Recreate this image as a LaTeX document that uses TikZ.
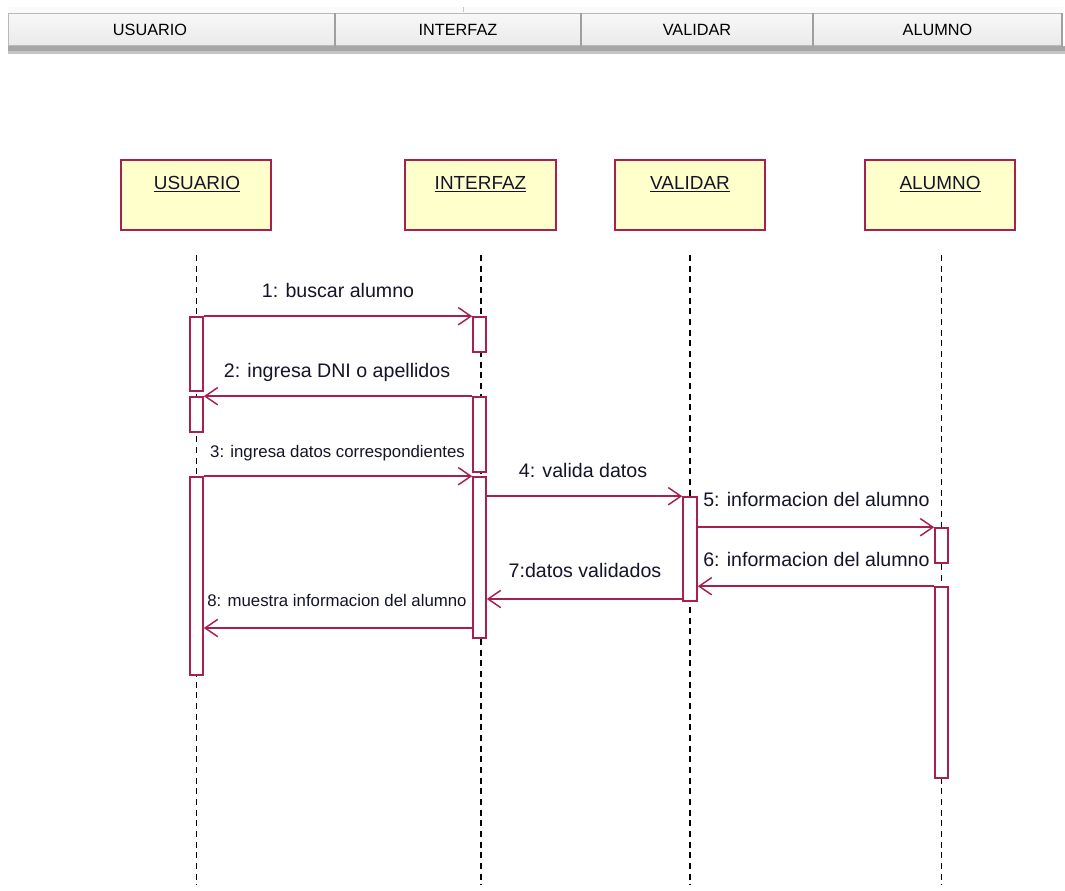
\documentclass[tikz,border=0pt]{standalone}
\usepackage{fontspec}
\setmainfont{Liberation Sans}
\usetikzlibrary{arrows.meta,fit,calc}

\definecolor{seqline}{HTML}{A8204E}
\definecolor{headfill}{HTML}{FFFFCC}
\definecolor{inktext}{HTML}{14142A}

\tikzset{
  btn/.style={draw=gray!55, top color=gray!6, bottom color=gray!16, inner sep=0pt, line width=0.6pt},
  btntext/.style={font=\fontsize{12.2}{14}\selectfont, text=black, inner sep=0pt},
  head/.style={draw=seqline, fill=headfill, line width=1.2pt, inner sep=0pt},
  headtext/.style={font=\fontsize{14.2}{16}\selectfont, text=inktext, inner sep=0pt, anchor=base},
  act/.style={draw=seqline, fill=white, line width=1.2pt, inner sep=0pt},
  life/.style={draw=black, line width=0.85pt, dash pattern=on 4.5pt off 3.5pt},
  msg/.style={draw=seqline, line width=1.2pt, -{Straight Barb[length=9.5pt,width=13pt,line width=1.1pt]}},
  biglbl/.style={font=\fontsize{14.7}{17}\selectfont, text=inktext, inner sep=0pt, anchor=base},
  smalllbl/.style={font=\fontsize{12.6}{15}\selectfont, text=inktext, inner sep=0pt, anchor=base},
}

\begin{document}
\begin{tikzpicture}[x=0.75pt, y=-0.75pt]
  \useasboundingbox (0,0) rectangle (1065,890);
  \fill[white] (0,0) rectangle (1065,890);

  % --- tool-bar style column header ---
  \fill[gray!4] (8,7) rectangle (1063,13);
  \draw[gray!45, line width=0.6pt] (463,7) -- (463,12);
  \node[btn, fit={(8,13)(335,45)}] (b1) {};
  \node[btn, fit={(335,13)(581,45)}] (b2) {};
  \node[btn, fit={(581,13)(813,45)}] (b3) {};
  \node[btn, fit={(813,13)(1062,45)}] (b4) {};
  \foreach \bx in {335,581,813,1062}{
    \draw[gray!75, line width=1.2pt] (\bx,13) -- (\bx,46);
  }
  \fill[gray!70] (8,46) rectangle (1065,51);
  \fill[gray!45] (8,51) rectangle (1065,54);
  \node[btntext] (t1) at (150,30) {USUARIO};
  \node[btntext] (t2) at (458,30) {INTERFAZ};
  \node[btntext] (t3) at (697,30) {VALIDAR};
  \node[btntext] (t4) at (937.5,30) {ALUMNO};

  % --- lifeline heads ---
  \node[head, fit={(121,160)(271,230)}] (hu) {};
  \node[head, fit={(405,160)(556,230)}] (hi) {};
  \node[head, fit={(615,160)(765,230)}] (hv) {};
  \node[head, fit={(865,160)(1015,230)}] (ha) {};
  \node[headtext] (lu) at (197,189) {\underline{USUARIO}};
  \node[headtext] (li) at (480.5,189) {\underline{INTERFAZ}};
  \node[headtext] (lv) at (690,189) {\underline{VALIDAR}};
  \node[headtext] (la) at (940,189) {\underline{ALUMNO}};

  % --- lifelines ---
  \draw[life] (196.5,255) -- (196.5,885);
  \draw[life] (481,255) -- (481,885);
  \draw[life] (690,255) -- (690,885);
  \draw[life] (941.5,255) -- (941.5,885);

  % --- activation bars ---
  \node[act, fit={(190,317)(203,391)}] (u1) {};
  \node[act, fit={(190,397)(203,432)}] (u2) {};
  \node[act, fit={(190,477)(203,675)}] (u3) {};
  \node[act, fit={(473,317)(486,352)}] (i1) {};
  \node[act, fit={(473,397)(486,472)}] (i2) {};
  \node[act, fit={(473,477)(486,638)}] (i3) {};
  \node[act, fit={(683,497)(697,601)}] (v1) {};
  \node[act, fit={(935,528)(948,563)}] (a1) {};
  \node[act, fit={(935,587)(948,778)}] (a2) {};

  % --- message levels ---
  \coordinate (m7) at (0,599);
  \coordinate (m8) at (0,628);

  % --- messages ---
  \draw[msg] (u1.north east) -- (i1.north west);
  \draw[msg] (i2.north west) -- (u2.north east);
  \draw[msg] (u3.north east) -- (i3.north west);
  \draw[msg] (i3.east |- v1.north) -- (v1.north west);
  \draw[msg] (v1.east |- a1.north) -- (a1.north west);
  \draw[msg] (a2.north west) -- (v1.east |- a2.north);
  \draw[msg] (v1.west |- m7) -- (i3.east |- m7);
  \draw[msg] (i3.west |- m8) -- (u3.east |- m8);

  % --- message labels ---
  \node[biglbl] (l1) at (338,297) {1: buscar alumno};
  \node[biglbl] (l2) at (337,377) {2: ingresa DNI o apellidos};
  \node[smalllbl] (l3) at (337.5,457) {3: ingresa datos correspondientes};
  \node[biglbl] (l4) at (583,477) {4: valida datos};
  \node[biglbl, anchor=base west] (l5) at (703,506) {5: informacion del alumno};
  \node[biglbl, anchor=base west] (l6) at (703,566) {6: informacion del alumno};
  \node[biglbl] (l7) at (585,577) {7:datos validados};
  \node[smalllbl] (l8) at (337,606) {8: muestra informacion del alumno};
\end{tikzpicture}
\end{document}
